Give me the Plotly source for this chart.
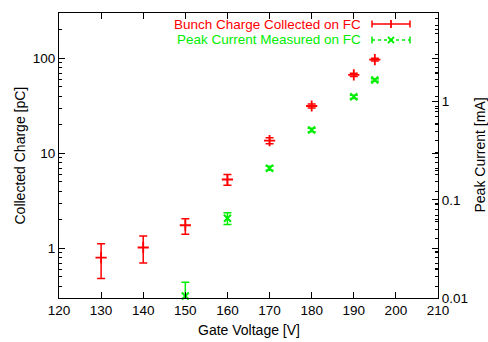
import numpy as np
import plotly.graph_objects as go

# ---- data ----
gate_voltage_charge = [130, 140, 150, 160, 170, 180, 190, 195]
bunch_charge_pC = [0.80, 1.02, 1.75, 5.3, 13.6, 31.5, 67, 97]
charge_err_plus = [0.32, 0.33, 0.30, 0.7, 1.0, 1.5, 2.5, 3.0]
charge_err_minus = [0.32, 0.32, 0.34, 0.7, 1.0, 1.5, 2.5, 3.0]

gate_voltage_current = [150, 160, 170, 180, 190, 195]
peak_current_mA = [0.0105, 0.065, 0.21, 0.515, 1.12, 1.66]
current_err = [0.004, 0.009, 0.01, 0.02, 0.04, 0.05]

x_ticks = [120, 130, 140, 150, 160, 170, 180, 190, 200, 210]
y_ticks = [1, 10, 100]
y2_ticks = [0.01, 0.1, 1]

RED = "#ff0000"
GREEN = "#00ee00"
FONT = "Liberation Sans, Arial, sans-serif"
TICK_SIZE = 13.5
TITLE_SIZE = 14

def minor_vals(lo_exp, hi_exp):
    vals = []
    for e in range(lo_exp, hi_exp + 1):
        for m in range(2, 10):
            vals.append(m * 10 ** e)
    return vals

fig = go.Figure()
fig.add_trace(go.Scatter(
    x=gate_voltage_charge, y=bunch_charge_pC, mode="markers",
    name="Bunch Charge Collected on FC",
    marker=dict(symbol="cross-thin", size=8, line=dict(color=RED, width=1.8), color=RED),
    error_y=dict(type="data", array=charge_err_plus, arrayminus=charge_err_minus,
                 color=RED, thickness=1.5, width=4),
    yaxis="y", cliponaxis=False,
))
fig.add_trace(go.Scatter(
    x=gate_voltage_current, y=peak_current_mA, mode="markers",
    name="Peak Current Measured on FC",
    marker=dict(symbol="x-thin", size=7, line=dict(color=GREEN, width=2), color=GREEN),
    error_y=dict(type="data", array=current_err, color=GREEN, thickness=1.5, width=4),
    yaxis="y2", cliponaxis=False,
))

axis_common = dict(showline=True, linecolor="black", linewidth=1, ticks="inside",
                   tickcolor="black", showgrid=False, zeroline=False,
                   tickfont=dict(family=FONT, size=TICK_SIZE, color="black"))

fig.update_layout(
    width=488, height=342, autosize=False,
    margin=dict(l=59, r=50, t=13, b=44),
    paper_bgcolor="white", plot_bgcolor="white",
    showlegend=False,
    font=dict(family=FONT, size=TICK_SIZE, color="black"),
    xaxis=dict(range=[120, 210], tickvals=x_ticks, ticklen=6, mirror="ticks", **axis_common),
    yaxis=dict(type="log", range=[np.log10(0.3), np.log10(300)], tickvals=y_ticks,
               ticktext=[str(v) for v in y_ticks], ticklen=6, mirror="ticks",
               minor=dict(ticks="inside", ticklen=3, tickcolor="black",
                          tickvals=minor_vals(-1, 2)),
               **axis_common),
    yaxis2=dict(type="log", overlaying="y", side="right",
                range=[-2, np.log10(8)], tickvals=y2_ticks,
                ticktext=["0.01", "0.1", "1"], ticklen=6,
                minor=dict(ticks="inside", ticklen=3, tickcolor="black",
                           tickvals=minor_vals(-2, 0)),
                **axis_common),
)

# axis titles
fig.add_annotation(text="Gate Voltage [V]", xref="paper", yref="paper",
                   x=0.5, y=-0.112, xanchor="center", yanchor="middle",
                   showarrow=False, font=dict(size=TITLE_SIZE))
fig.add_annotation(text="Collected Charge [pC]", xref="paper", yref="paper",
                   x=(19 - 59) / 379, y=0.5, textangle=-90,
                   xanchor="center", yanchor="middle", showarrow=False,
                   font=dict(size=TITLE_SIZE))
fig.add_annotation(text="Peak Current [mA]", xref="paper", yref="paper",
                   x=(479 - 59) / 379, y=0.5, textangle=-90,
                   xanchor="center", yanchor="middle", showarrow=False,
                   font=dict(size=TITLE_SIZE))

# legend (gnuplot-style: text right-aligned, sample on right)
def px(xp):
    return (xp - 59) / 379
def py(yp):
    return (298 - yp) / 285

leg = [("Bunch Charge Collected on FC", RED, 24, "solid", "+"),
       ("Peak Current Measured on FC", GREEN, 40, "3px,3px", "x")]
for text, col, ypix, dash, sym in leg:
    fig.add_annotation(text=text, xref="paper", yref="paper", x=px(363), y=py(ypix),
                       xanchor="right", yanchor="middle", showarrow=False,
                       font=dict(size=TICK_SIZE, color=col))
    fig.add_shape(type="line", xref="paper", yref="paper", x0=px(372), x1=px(410),
                  y0=py(ypix), y1=py(ypix), line=dict(color=col, width=1.5, dash=dash))
    for xe in (372, 410):
        fig.add_shape(type="line", xref="paper", yref="paper", x0=px(xe), x1=px(xe),
                      y0=py(ypix - 3.5), y1=py(ypix + 3.5), line=dict(color=col, width=1.5))
    if sym == "+":
        fig.add_shape(type="line", xref="paper", yref="paper", x0=px(391), x1=px(391),
                      y0=py(ypix - 4), y1=py(ypix + 4), line=dict(color=col, width=1.8))
    else:
        fig.add_shape(type="line", xref="paper", yref="paper", x0=px(388), x1=px(394),
                      y0=py(ypix - 3), y1=py(ypix + 3), line=dict(color=col, width=1.8))
        fig.add_shape(type="line", xref="paper", yref="paper", x0=px(388), x1=px(394),
                      y0=py(ypix + 3), y1=py(ypix - 3), line=dict(color=col, width=1.8))

fig.write_html("out.html")
